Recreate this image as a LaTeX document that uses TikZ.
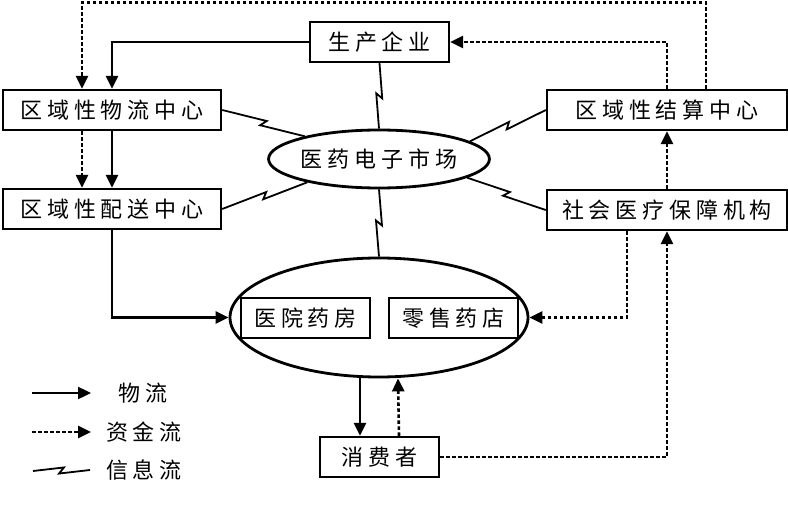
\documentclass[tikz,border=0pt]{standalone}
\usepackage{fontspec}
\newfontfamily\cjk{Noto Sans CJK SC}[LetterSpace=22]
\newcommand\cjkf{\cjk\fontsize{22}{24}\selectfont}
\usetikzlibrary{arrows.meta,shapes.geometric,calc}
\tikzset{
  box/.style={draw, line width=2.4pt, minimum height=40pt, inner sep=0pt, font=\cjkf},
  oval/.style={draw, ellipse, line width=2.8pt, inner sep=0pt, font=\cjkf},
  lbl/.style={font=\cjkf, inner sep=0pt},
  goods/.style={line width=2.4pt, -{Triangle[length=13pt,width=12pt]}},
  money/.style={goods, line width=2.6pt, dash pattern=on 3.5pt off 2.5pt},
  lightning/.style={to path={-- ($(\tikztostart)!0.5!(\tikztotarget)!2.5pt!(\tikztotarget)!3pt!90:(\tikztotarget)$) -- ($(\tikztostart)!0.5!(\tikztotarget)!-2.5pt!(\tikztotarget)!3pt!-90:(\tikztotarget)$) -- (\tikztotarget)}},
  info/.style={line width=1.8pt, line join=miter, lightning}
}
\begin{document}
\begin{tikzpicture}[x=1pt,y=-1pt]
\useasboundingbox (0,0) rectangle (788,508);
% nodes
\node[box, minimum width=139pt] (prod) at (379.5,42) {生产企业};
\node[box, minimum width=218pt] (wl) at (112,110) {区域性物流中心};
\node[box, minimum width=218pt] (ps) at (112,209) {区域性配送中心};
\node[box, minimum width=240pt] (js) at (667,110) {区域性结算中心};
\node[box, minimum width=240pt] (sb) at (667,210) {社会医疗保障机构};
\node[oval, minimum width=218pt, minimum height=58pt] (mkt) at (379,159) {医药电子市场};
\node[oval, minimum width=298pt, minimum height=119pt] (big) at (379,317.5) {};
\node[box, minimum width=129pt] (hosp) at (305.5,318) {医院药房};
\node[box, minimum width=129pt] (retail) at (453.5,318) {零售药店};
\node[box, minimum width=119pt] (cons) at (379.5,457) {消费者};
% helper coordinates
\coordinate (topL) at (0,2.5);
\coordinate (jsT) at ([xshift=39pt]js.north);
\coordinate (wlT) at ([xshift=-30pt]wl.north);
% money & goods flows
\draw[money] (jsT) -- (jsT |- topL) -- (wlT |- topL) -- (wlT);
\draw[goods] (prod.west) -| (wl.north);
\draw[money] (js.north) |- (prod.east);
\draw[money] ([xshift=-30pt]wl.south) -- ([xshift=-30pt]ps.north);
\draw[goods] (wl.south) -- (ps.north);
\draw[goods] (ps.south) |- (big.west);
\draw[money] (sb.north) -- (js.south);
\draw[money] ([xshift=-40pt]sb.south) |- (big.east);
\draw[money] (cons.east) -| (sb.south);
\draw[goods] ([xshift=-19pt]big.south) -- ([xshift=-19.5pt]cons.north);
\draw[money] ([xshift=19.5pt]cons.north) -- ([xshift=19pt]big.south);
% information flows
\draw[info] (wl.east) to (mkt.163);
\draw[info] (ps.east) to (mkt.198);
\draw[info] (mkt.11) to (js.west);
\draw[info] (mkt.348) to (sb.west);
\draw[info] (prod.south) to (mkt.north);
\draw[info] (mkt.south) to (big.north);
% legend
\coordinate (l1a) at (32,393); \coordinate (l1b) at (91,393);
\coordinate (l2a) at (32,432); \coordinate (l2b) at (91,432);
\coordinate (l3a) at (33,471); \coordinate (l3b) at (90,470);
\draw[goods] (l1a) -- (l1b);
\draw[money] (l2a) -- (l2b);
\draw[info] (l3a) to (l3b);
\node[lbl] (t1) at (143,393) {物流};
\node[lbl] (t2) at (144,432) {资金流};
\node[lbl] (t3) at (144,470) {信息流};
\end{tikzpicture}
\end{document}
